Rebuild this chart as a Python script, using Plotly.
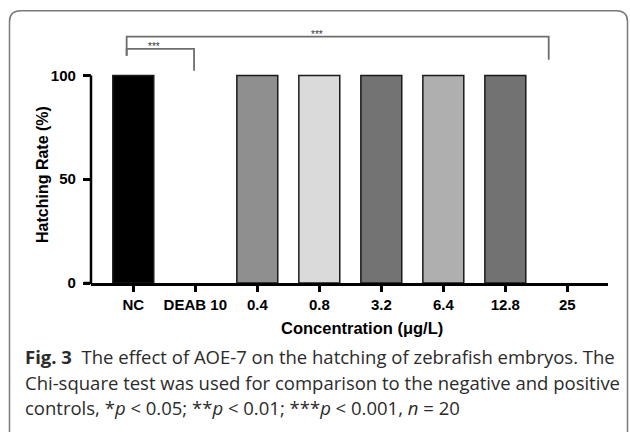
import plotly.graph_objects as go

# ---- data ----
categories = ["NC", "DEAB 10", "0.4", "0.8", "3.2", "6.4", "12.8", "25"]
hatching_rate = [100, 0, 100, 100, 100, 100, 100, 0]
bar_colors = ["#000000", "#ffffff", "#8f8f8f", "#dadada", "#737373", "#afafaf", "#727272", "#ffffff"]
y_ticks = [0, 50, 100]

# significance brackets: (left category pos, right category pos, y level, left drop, right drop, label x, label)
brackets = [
    (-0.107, 6.70, 118.7, 109.5, 107.5, 2.96, "***"),
    (-0.107, 0.98, 112.8, 109.5, 102.2, 0.33, "***"),
]

W, H = 630, 432
L, R, T, B = 91, 22, 25, 149
PW, PH = W - L - R, H - T - B
X_RANGE = [-0.682, 7.656]
Y_RANGE = [0, 124.3]


def px(x):
    return (x - L) / PW


def py(y):
    return (H - B - y) / PH


def yval_to_paper(v):
    return (v - Y_RANGE[0]) / (Y_RANGE[1] - Y_RANGE[0])


fig = go.Figure()
fig.add_trace(go.Bar(
    x=list(range(len(categories))),
    y=hatching_rate,
    width=0.66,
    marker=dict(color=bar_colors,
                line=dict(color="#1a1a1a", width=[1.5 if v > 0 else 0 for v in hatching_rate])),
    showlegend=False,
    hoverinfo="skip",
))

shapes = []
annotations = []

# y axis line (0..100) and its tick marks, paper-referenced so they are never clipped
shapes.append(dict(type="line", xref="paper", yref="paper", x0=0, x1=0,
                   y0=yval_to_paper(min(y_ticks)), y1=yval_to_paper(max(y_ticks)),
                   line=dict(color="black", width=2.5)))
for v in y_ticks:
    shapes.append(dict(type="line", xref="paper", yref="paper", x0=px(84), x1=0,
                       y0=yval_to_paper(v), y1=yval_to_paper(v),
                       line=dict(color="black", width=2.5)))

for x0, x1, yl, d0, d1, lx, lab in brackets:
    path = f"M {x0},{d0} L {x0},{yl} L {x1},{yl} L {x1},{d1}"
    shapes.append(dict(type="path", xref="x", yref="y", path=path,
                       line=dict(color="#6e6e6e", width=1.8)))
    annotations.append(dict(x=lx, y=yl, xref="x", yref="y", text=lab, showarrow=False,
                            xanchor="center", yanchor="bottom", yshift=-5,
                            font=dict(family="Liberation Sans, Arial", size=10, color="#333333")))

# rounded frame
r = 11
x0f, y0f, x1f, y1f = 9.5, 10.7, 627.5, 445
frame = (f"M {px(x0f)},{py(y0f + r)} Q {px(x0f)},{py(y0f)} {px(x0f + r)},{py(y0f)} "
         f"L {px(x1f - r)},{py(y0f)} Q {px(x1f)},{py(y0f)} {px(x1f)},{py(y0f + r)} "
         f"L {px(x1f)},{py(y1f - r)} Q {px(x1f)},{py(y1f)} {px(x1f - r)},{py(y1f)} "
         f"L {px(x0f + r)},{py(y1f)} Q {px(x0f)},{py(y1f)} {px(x0f)},{py(y1f - r)} Z")
shapes.append(dict(type="path", xref="paper", yref="paper", path=frame,
                   line=dict(color="#7a7a7a", width=1.5), layer="below"))

bold = "Arial, Liberation Sans, sans-serif"
annotations.append(dict(x=px(43), y=py(175), xref="paper", yref="paper", text="<b>Hatching Rate (%)</b>",
                        textangle=-90, showarrow=False, xanchor="center", yanchor="middle",
                        font=dict(family=bold, size=16, color="black")))
annotations.append(dict(x=px(362), y=py(328), xref="paper", yref="paper", text="<b>Concentration (μg/L)</b>",
                        showarrow=False, xanchor="center", yanchor="middle",
                        font=dict(family=bold, size=16.5, color="black")))

cap_font = dict(family="Open Sans, Noto Sans, sans-serif", size=18.5, color="#2b2b2b")
cap_lines = [
    "<b>Fig. 3</b>  The effect of AOE-7 on the hatching of zebrafish embryos. The",
    "Chi-square test was used for comparison to the negative and positive",
    "controls, *<i>p</i> < 0.05; **<i>p</i> < 0.01; ***<i>p</i> < 0.001, <i>n</i> = 20",
]
for yy, t in zip([356, 382, 407], cap_lines):
    annotations.append(dict(x=px(23), y=py(yy), xref="paper", yref="paper", text=t,
                            xanchor="left", yanchor="middle", showarrow=False, font=cap_font))

fig.update_layout(
    width=W, height=H,
    margin=dict(l=L, r=R, t=T, b=B, pad=0),
    paper_bgcolor="white", plot_bgcolor="white",
    xaxis=dict(range=X_RANGE, tickmode="array", tickvals=list(range(len(categories))),
               ticktext=[f"<b>{c}</b>" for c in categories], showline=True, linecolor="black",
               linewidth=2.5, ticks="outside", ticklen=6, tickwidth=2.5, tickcolor="black",
               showgrid=False, zeroline=False, fixedrange=True,
               tickfont=dict(family=bold, size=15, color="black")),
    yaxis=dict(range=Y_RANGE, tickmode="array", tickvals=y_ticks,
               ticktext=[f"<b>{v}</b> " for v in y_ticks],
               showline=False, ticks="outside", ticklen=7, tickwidth=2.5, tickcolor="black",
               showgrid=False, zeroline=False, fixedrange=True,
               tickfont=dict(family=bold, size=15, color="black")),
    shapes=shapes,
    annotations=annotations,
)

fig.write_html("out.html", config={"displayModeBar": False},
               post_script="document.body.style.margin='0';document.body.style.overflow='hidden';")
